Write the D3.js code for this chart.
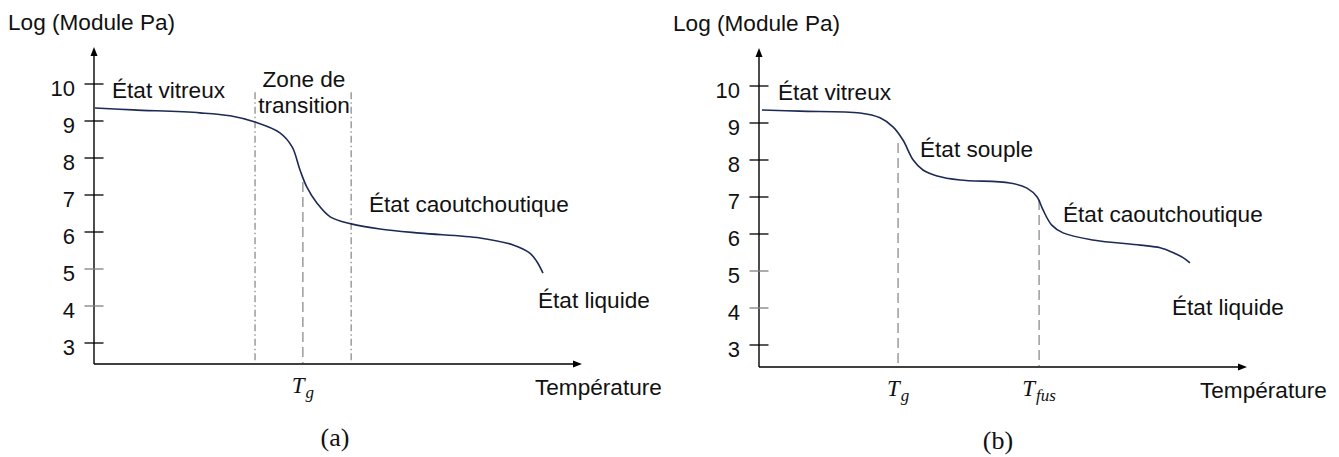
<!DOCTYPE html>
<html>
<head>
<meta charset="utf-8">
<script src="https://cdn.jsdelivr.net/npm/d3@7"></script>
<style>
  body { margin: 0; background: #fff; }
  text { font-family: "Liberation Sans", Arial, Helvetica, sans-serif; fill: #111; }
  .math { font-family: "Liberation Serif", "DejaVu Serif", serif; font-style: italic; }
  .cap { font-family: "Liberation Serif", "DejaVu Serif", serif; }
</style>
</head>
<body>
<svg width="1339" height="457"></svg>
<script>
// y ticks (log of modulus, Pa)
var yTicks = [3, 4, 5, 6, 7, 8, 9, 10];

// panel (a) curve: temperature (arbitrary units 0-100) vs log modulus
var tempA   = [0.2, 8.0, 21.7, 27.9, 33.0, 38.1, 40.6, 42.2, 43.6, 45.7, 48.4, 52.7, 58.6, 66.8, 79.1, 85.9, 89.3, 90.8, 92.0];
var logModA = [9.35, 9.30, 9.22, 9.14, 8.97, 8.68, 8.30, 7.68, 7.22, 6.78, 6.41, 6.22, 6.08, 5.97, 5.84, 5.65, 5.43, 5.19, 4.89];

// panel (b) curve
var tempB   = [0.6, 8.4, 20.7, 24.8, 27.5, 29.5, 31.6, 33.6, 36.5, 41.2, 51.4, 54.9, 57.0, 58.2, 60.0, 62.3, 68.4, 78.1, 82.2, 84.8, 86.9, 88.3];
var logModB = [9.35, 9.32, 9.27, 9.14, 8.89, 8.54, 8.00, 7.73, 7.57, 7.46, 7.38, 7.24, 7.00, 6.65, 6.24, 6.03, 5.84, 5.70, 5.63, 5.50, 5.36, 5.22];

// vertical markers: [temperature, top log modulus]
var zoneA = [[33.0, 9.78], [52.7, 9.78]];   // zone de transition bounds
var tgA   = [42.8, 7.35];
var tgB   = [28.5, 8.46];
var tfusB = [57.4, 6.92];

var svg = d3.select("svg");
var lineColor = "#1c2a55";
var fs = "22.6px";

function drawPanel(p) {
  var x = d3.scaleLinear().domain([0, 100]).range([p.left, p.right]);
  var y = d3.scaleLinear().domain([3, 10]).range([p.y3, p.y10]);
  var g = svg.append("g");

  // axes with arrows
  g.append("line")
    .attr("x1", p.left).attr("y1", p.axisY)
    .attr("x2", p.right - 6).attr("y2", p.axisY)
    .attr("stroke", "#000").attr("stroke-width", 1.4);
  g.append("path")
    .attr("d", "M" + p.right + "," + p.axisY + "L" + (p.right - 9) + "," + (p.axisY - 3.5) + "L" + (p.right - 9) + "," + (p.axisY + 3.5) + "Z")
    .attr("fill", "#000");
  g.append("line")
    .attr("x1", p.left).attr("y1", p.axisY)
    .attr("x2", p.left).attr("y2", p.top + 6)
    .attr("stroke", "#000").attr("stroke-width", 1.4);
  g.append("path")
    .attr("d", "M" + p.left + "," + p.top + "L" + (p.left - 3.5) + "," + (p.top + 9) + "L" + (p.left + 3.5) + "," + (p.top + 9) + "Z")
    .attr("fill", "#000");

  // ticks across the y axis
  g.selectAll(".tick").data(yTicks).enter().append("line")
    .attr("x1", p.left - 9.5).attr("x2", p.left + 9.5)
    .attr("y1", function(d) { return y(d); })
    .attr("y2", function(d) { return y(d); })
    .attr("stroke", function(d) { return (d == 4 || d == 5) ? "#808080" : "#000"; })
    .attr("stroke-width", 1.3);
  g.selectAll(".tlab").data(yTicks).enter().append("text")
    .attr("x", p.left - 19)
    .attr("y", function(d) { return y(d) + 12; })
    .attr("text-anchor", "end")
    .style("font-size", "22px")
    .text(function(d) { return d; });

  // vertical markers
  p.markers.forEach(function(m) {
    g.append("line")
      .attr("x1", x(m.pos[0])).attr("x2", x(m.pos[0]))
      .attr("y1", y(m.pos[1])).attr("y2", p.axisY - 1)
      .attr("stroke", "#9c9c9c").attr("stroke-width", 1.5)
      .attr("stroke-dasharray", m.dash);
  });

  // curve
  var pts = p.temp.map(function(t, i) { return [t, p.logMod[i]]; });
  var line = d3.line()
    .curve(d3.curveCatmullRom.alpha(0.5))
    .x(function(d) { return x(d[0]); })
    .y(function(d) { return y(d[1]); });
  g.append("path")
    .datum(pts)
    .attr("d", line)
    .attr("fill", "none")
    .attr("stroke", lineColor)
    .attr("stroke-width", 1.6);

  // texts
  g.append("text").attr("x", p.left - 86).attr("y", p.top - 17)
    .style("font-size", fs).text("Log (Module Pa)");
  g.append("text").attr("x", p.right - 47).attr("y", p.axisY + 31)
    .style("font-size", fs).text("Température");
  p.labels.forEach(function(l) {
    g.append("text").attr("x", l.x).attr("y", l.y)
      .attr("text-anchor", l.anchor || "start")
      .style("font-size", fs).text(l.text);
  });

  // math labels under the axis
  p.sym.forEach(function(s) {
    var t = g.append("text").attr("class", "math")
      .attr("x", x(s.at)).attr("y", p.axisY + 29)
      .attr("text-anchor", "middle")
      .style("font-size", "23px");
    t.append("tspan").text("T");
    t.append("tspan").attr("dy", 5).attr("dx", 1).style("font-size", "17px").text(s.sub);
  });

  g.append("text").attr("class", "cap")
    .attr("x", p.capX).attr("y", p.axisY + 82)
    .attr("text-anchor", "middle")
    .style("font-size", "26px").text(p.cap);
}

drawPanel({
  left: 94, right: 582, y3: 343, y10: 84, axisY: 364, top: 47,
  temp: tempA, logMod: logModA,
  markers: [
    { pos: zoneA[0], dash: "7,3,1.5,3" },
    { pos: zoneA[1], dash: "7,3,1.5,3" },
    { pos: tgA, dash: "10,5" }
  ],
  labels: [
    { x: 112, y: 98, text: "État vitreux" },
    { x: 304, y: 87, text: "Zone de", anchor: "middle" },
    { x: 304, y: 113, text: "transition", anchor: "middle" },
    { x: 369, y: 212, text: "État caoutchoutique" },
    { x: 538, y: 308, text: "État liquide" }
  ],
  sym: [{ at: tgA[0], sub: "g" }],
  cap: "(a)", capX: 335
});

drawPanel({
  left: 759, right: 1247, y3: 345, y10: 86, axisY: 367, top: 48,
  temp: tempB, logMod: logModB,
  markers: [
    { pos: tgB, dash: "10,5" },
    { pos: tfusB, dash: "10,5" }
  ],
  labels: [
    { x: 778, y: 100, text: "État vitreux" },
    { x: 920, y: 157, text: "État souple" },
    { x: 1063, y: 222, text: "État caoutchoutique" },
    { x: 1172, y: 315, text: "État liquide" }
  ],
  sym: [{ at: tgB[0], sub: "g" }, { at: tfusB[0], sub: "fus" }],
  cap: "(b)", capX: 998
});
</script>
</body>
</html>
